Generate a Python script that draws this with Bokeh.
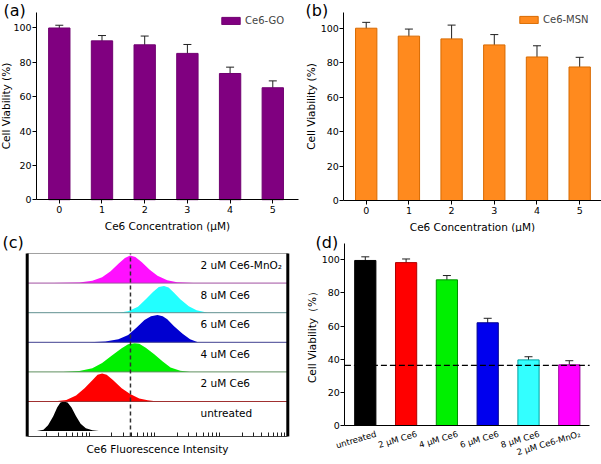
import math
from bokeh.plotting import figure
from bokeh.layouts import row, column
from bokeh.models import (Range1d, FixedTicker, Whisker, TeeHead, ColumnDataSource,
                          Label, LabelSet, Legend, LegendItem)
from bokeh.core.properties import value
from bokeh.embed import file_html
from bokeh.resources import INLINE

FONT = "DejaVu Sans"

# ---------------- data ----------------
conc = [0, 1, 2, 3, 4, 5]
conc_ticks = [0, 1, 2, 3, 4, 5]
viability_ticks = [0, 20, 40, 60, 80, 100]

go_viability = [100, 92.5, 90.2, 85.2, 73.5, 65.2]
go_error = [1.6, 3.1, 5.1, 5.2, 3.7, 4.0]

msn_viability = [100, 95.4, 93.8, 90.3, 83.3, 77.5]
msn_error = [3.4, 4.1, 8.0, 6.0, 6.5, 5.6]

groups = ["untreated", "2 \u03bcM Ce6", "4 \u03bcM Ce6", "6 \u03bcM Ce6", "8 \u03bcM Ce6",
          "2 \u03bcM Ce6-MnO\u2082"]
group_pos = [0, 1, 2, 3, 4, 5]
d_viability = [99.6, 98.3, 87.9, 62.0, 39.6, 36.6]
d_error = [2.2, 2.2, 2.6, 2.7, 1.9, 2.5]
threshold = 36.3

# flow cytometry histograms (log10 intensity, normalised count)
flow_labels = ["untreated", "2 uM Ce6", "4 uM Ce6", "6 uM Ce6", "8 uM Ce6",
               "2 uM Ce6-MnO\u2082"]
untreated_x = [0.15, 0.25, 0.32, 0.40, 0.46, 0.51, 0.56, 0.62, 0.68, 0.75, 0.82, 0.90, 1.00, 1.10]
untreated_y = [0.0, 0.05, 0.20, 0.50, 0.80, 0.97, 1.00, 0.97, 0.80, 0.50, 0.25, 0.10, 0.03, 0.0]
ce6_2_x = [0.40, 0.60, 0.75, 0.88, 1.00, 1.08, 1.15, 1.22, 1.32, 1.45, 1.58, 1.72, 1.85, 2.00]
ce6_2_y = [0.0, 0.05, 0.20, 0.45, 0.72, 0.90, 0.95, 0.90, 0.72, 0.45, 0.25, 0.10, 0.04, 0.0]
ce6_4_x = [0.55, 0.80, 1.00, 1.15, 1.30, 1.45, 1.55, 1.65, 1.72, 1.82, 1.95, 2.08, 2.20, 2.35, 2.50]
ce6_4_y = [0.0, 0.03, 0.12, 0.30, 0.55, 0.80, 0.93, 0.97, 0.95, 0.82, 0.60, 0.35, 0.15, 0.04, 0.0]
ce6_6_x = [0.95, 1.20, 1.40, 1.55, 1.68, 1.80, 1.90, 2.00, 2.08, 2.15, 2.25, 2.38, 2.50, 2.62]
ce6_6_y = [0.0, 0.03, 0.10, 0.25, 0.50, 0.75, 0.88, 0.92, 0.88, 0.78, 0.55, 0.30, 0.10, 0.0]
ce6_8_x = [1.40, 1.55, 1.70, 1.82, 1.93, 2.02, 2.10, 2.17, 2.25, 2.35, 2.48, 2.60, 2.77]
ce6_8_y = [0.0, 0.05, 0.20, 0.45, 0.70, 0.87, 0.90, 0.85, 0.68, 0.45, 0.22, 0.08, 0.0]
mno2_x = [0.40, 0.80, 1.00, 1.15, 1.28, 1.40, 1.50, 1.58, 1.66, 1.76, 1.88, 2.00, 2.15, 2.30, 2.55]
mno2_y = [0.0, 0.02, 0.08, 0.20, 0.40, 0.65, 0.85, 0.93, 0.88, 0.70, 0.45, 0.25, 0.10, 0.03, 0.0]
reference_intensity = 1.585
intensity_min, intensity_max = 0, 4
intensity_decades = [0, 1, 2, 3]

hist_x = [untreated_x, ce6_2_x, ce6_4_x, ce6_6_x, ce6_8_x, mno2_x]
hist_y = [untreated_y, ce6_2_y, ce6_4_y, ce6_6_y, ce6_8_y, mno2_y]
hist_fill = ["#000000", "#ff0000", "#00f000", "#0000d0", "#22ffff", "#ff10ff"]
hist_base = ["#404040", "#a03030", "#609060", "#404090", "#609090", "#a050a0"]

d_fill = ["#000000", "#ff0000", "#00f000", "#0000ee", "#33ffff", "#ff00ff"]
d_line = ["#000000", "#b00000", "#009000", "#000090", "#00a0a0", "#a000a0"]


def new_fig(w, h, xr, yr):
    p = figure(width=w, height=h, x_range=Range1d(*xr), y_range=Range1d(*yr),
               output_backend="svg", toolbar_location=None,
               min_border_left=0, min_border_right=0, min_border_top=0, min_border_bottom=0)
    p.grid.visible = False
    p.outline_line_color = None
    for ax in (p.xaxis[0], p.yaxis[0]):
        ax.axis_line_color = "black"
        ax.axis_line_width = 1
        ax.major_tick_line_color = "black"
        ax.major_tick_in = 0
        ax.major_tick_out = 4
        ax.minor_tick_line_color = None
        ax.major_label_text_font = FONT
        ax.major_label_text_font_size = "9.5px"
        ax.major_label_text_color = "black"
        ax.major_label_standoff = 1
        ax.axis_label_text_font = FONT
        ax.axis_label_text_font_size = "10.5px"
        ax.axis_label_text_font_style = "normal"
        ax.axis_label_text_color = "black"
    return p


def panel_label(p, txt, x, y):
    p.add_layout(Label(x=x, y=y, text=txt, text_font=FONT, text_font_size="16px",
                       text_baseline="top", text_align="left", text_color="black"))


def whiskers(p, src):
    p.add_layout(Whisker(source=src, base="x", upper="upper", lower="lower",
                         line_color="#202020", line_width=1,
                         upper_head=TeeHead(size=8, line_color="#202020", line_width=1),
                         lower_head=TeeHead(size=8, line_color="#202020", line_width=1)))


def bar_panel(mean, err, fill, line, name, width, xr, yr, x_axis_end, y_axis_top,
              legend_loc, tag, tag_xy, ystand):
    p = new_fig(width, 232, xr, yr)
    src = ColumnDataSource(dict(x=conc, top=mean,
                                upper=[m + e for m, e in zip(mean, err)],
                                lower=[m - e for m, e in zip(mean, err)]))
    r = p.vbar(x="x", top="top", width=0.5, source=src, fill_color=fill, line_color=line,
               line_width=1)
    whiskers(p, src)
    p.xaxis.fixed_location = 0
    p.xaxis.bounds = (x_axis_end[0], x_axis_end[1])
    p.yaxis.fixed_location = x_axis_end[0]
    p.yaxis.bounds = (0, y_axis_top)
    p.xaxis.ticker = FixedTicker(ticks=conc_ticks)
    p.xaxis.major_label_standoff = 2
    p.yaxis.ticker = FixedTicker(ticks=viability_ticks)
    p.xaxis.axis_label = "Ce6 Concentration (\u03bcM)"
    p.xaxis.axis_label_standoff = 4
    p.yaxis.axis_label = "Cell Viability (%)"
    p.yaxis.axis_label_standoff = ystand
    leg = Legend(items=[LegendItem(label=name, renderers=[r])], location=legend_loc,
                 orientation="vertical")
    leg.border_line_color = None
    leg.background_fill_alpha = 0
    leg.padding = 0
    leg.margin = 0
    leg.glyph_width = 23
    leg.glyph_height = 9
    leg.label_height = 9
    leg.label_standoff = 3
    leg.label_text_font = FONT
    leg.label_text_font_size = "10px"
    p.add_layout(leg)
    panel_label(p, tag, *tag_xy)
    return p


pa = bar_panel(go_viability, go_error, "#800080", "#700070", "Ce6-GO", 300,
               (-1.377, 5.649), (-19.10, 116.01), (-0.532, 5.6), 109,
               (219, 206), "(a)", (-1.307, 116.0), -2)
pb = bar_panel(msn_viability, msn_error, "#ff8a1e", "#d86a00", "Ce6-MSN", 301,
               (-1.539, 5.511), (-18.57, 116.08), (-0.525, 5.511), 109,
               (217, 207), "(b)", (-1.421, 116.0), 0)

# ---------------- (c) flow cytometry ----------------
axis_floor = -0.18
pc = new_fig(300, 232, (-0.41, 4.195), (-1.128, 6.709))
for i, (hx, hy) in enumerate(zip(hist_x, hist_y)):
    pc.varea(x=hx, y1=[i] * len(hx), y2=[i + v for v in hy], fill_color=hist_fill[i])
n_rows = len(hist_x)
pc.segment(x0=[intensity_min] * (n_rows - 1), x1=[intensity_max] * (n_rows - 1),
           y0=list(range(1, n_rows)), y1=list(range(1, n_rows)),
           line_color=hist_base[1:], line_width=1)
pc.segment(x0=[intensity_min], x1=[intensity_max], y0=[n_rows], y1=[n_rows],
           line_color="#a0a0a0", line_width=1)
pc.segment(x0=[reference_intensity], x1=[reference_intensity], y0=[axis_floor], y1=[n_rows],
           line_color="#303030", line_width=1.5, line_dash="4 3")
pc.segment(x0=[intensity_min, intensity_max], x1=[intensity_min, intensity_max],
           y0=[axis_floor, axis_floor], y1=[n_rows, n_rows], line_color="black", line_width=3)
lab_src = ColumnDataSource(dict(x=[2.66] * n_rows, y=[i + 0.61 for i in range(n_rows)],
                                t=flow_labels))
pc.add_layout(LabelSet(x="x", y="y", text="t", source=lab_src, text_font=value(FONT),
                       text_font_size=value("10.5px"), text_baseline="middle",
                       text_align="left", text_color="black"))
pc.yaxis.visible = False
pc.xaxis.fixed_location = axis_floor
pc.xaxis.bounds = (intensity_min, intensity_max)
pc.xaxis.ticker = FixedTicker(
    ticks=[], minor_ticks=[d + math.log10(k) for d in intensity_decades for k in range(2, 10)])
pc.xaxis.major_tick_out = 0
pc.xaxis.minor_tick_line_color = "#202020"
pc.xaxis.minor_tick_in = 4
pc.xaxis.minor_tick_out = 0
pc.xaxis.axis_line_color = "#404040"
pc.xaxis.axis_label = "Ce6 Fluorescence Intensity"
pc.xaxis.axis_label_standoff = 6
panel_label(pc, "(c)", -0.379, 6.70)

# ---------------- (d) viability ----------------
pd_ = new_fig(301, 232, (-1.588, 5.789), (-23.54, 116.48))
dsrc = ColumnDataSource(dict(x=group_pos, top=d_viability, fill=d_fill, line=d_line,
                             upper=[m + e for m, e in zip(d_viability, d_error)],
                             lower=[m - e for m, e in zip(d_viability, d_error)]))
pd_.vbar(x="x", top="top", width=0.52, source=dsrc, fill_color="fill", line_color="line",
         line_width=1)
whiskers(pd_, dsrc)
pd_.segment(x0=[-0.5], x1=[5.5], y0=[threshold], y1=[threshold], line_color="black",
            line_width=1.3, line_dash="6 3")
pd_.xaxis.fixed_location = 0
pd_.xaxis.bounds = (-0.5, 5.5)
pd_.xaxis.ticker = FixedTicker(ticks=[])
pd_.xaxis.major_tick_out = 0
pd_.yaxis.fixed_location = -0.5
pd_.yaxis.bounds = (0, 110)
pd_.yaxis.ticker = FixedTicker(ticks=viability_ticks)
pd_.yaxis.axis_label = "Cell Viability\uff08%\uff09"
pd_.yaxis.axis_label_standoff = 0
tick_src = ColumnDataSource(dict(x=[g + 0.23 for g in group_pos], y=[-2.0] * 6, t=groups))
pd_.add_layout(LabelSet(x="x", y="y", text="t", source=tick_src, angle=0.29,
                        text_font=value(FONT), text_font_size=value("8.5px"),
                        text_align="right", text_baseline="top", text_color="black"))
panel_label(pd_, "(d)", -1.22, 116.4)

layout = row(column(pa, pc), column(pb, pd_))
open("out.html", "w").write(file_html(layout, INLINE))
